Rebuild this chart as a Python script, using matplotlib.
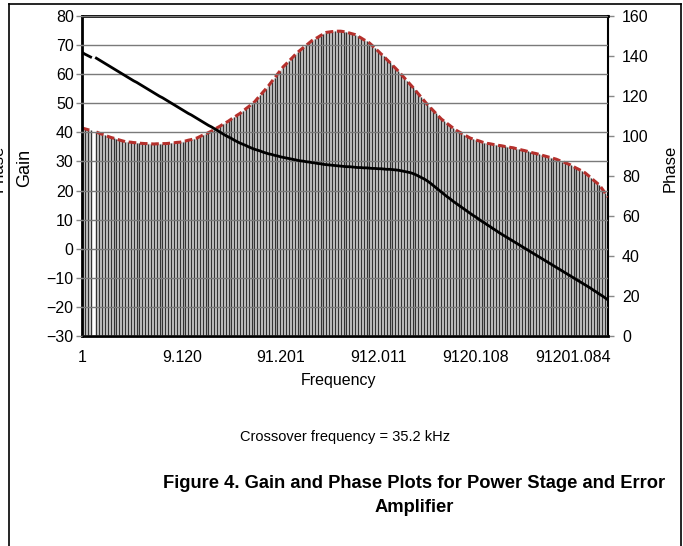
import numpy as np
import matplotlib
matplotlib.use("Agg")
import matplotlib.pyplot as plt
from matplotlib.lines import Line2D

plt.rcParams['font.family'] = ['Liberation Sans', 'DejaVu Sans']

nan = float('nan')

# Gain (left axis), one value per frequency point
gain = [
    67.5, 66.9, 66.4, 65.9, nan,
    65.5, 64.9, 64.3, 63.7, 63.1,
    62.5, 61.9, 61.3, 60.7, 60.1,
    59.5, 58.9, 58.3, 57.7, 57.2,
    56.6, 56.0, 55.4, 54.8, 54.2,
    53.6, 53.0, 52.4, 51.9, 51.3,
    50.7, 50.1, 49.5, 48.9, 48.3,
    47.7, 47.1, 46.5, 46.0, 45.4,
    44.8, 44.2, 43.6, 43.0, 42.4,
    41.9, 41.3, 40.7, 40.1, 39.5,
    38.9, 38.4, 37.9, 37.3, 36.8,
    36.3, 35.9, 35.5, 35.0, 34.6,
    34.2, 33.9, 33.6, 33.2, 32.9,
    32.6, 32.4, 32.1, 31.9, 31.6,
    31.4, 31.2, 31.0, 30.8, 30.6,
    30.4, 30.2, 30.1, 29.9, 29.8,
    29.6, 29.5, 29.3, 29.2, 29.0,
    28.9, 28.8, 28.7, 28.6, 28.5,
    28.4, 28.3, 28.2, 28.2, 28.1,
    28.0, 27.9, 27.9, 27.8, 27.8,
    27.7, 27.6, 27.6, 27.5, 27.5,
    27.4, 27.3, 27.3, 27.2, 27.1,
    27.0, 26.8, 26.6, 26.4, 26.2,
    25.9, 25.5, 25.0, 24.5, 24.0,
    23.4, 22.7, 21.9, 21.1, 20.3,
    19.5, 18.7, 17.9, 17.2, 16.4,
    15.7, 15.0, 14.3, 13.6, 12.9,
    12.2, 11.5, 10.9, 10.2, 9.5,
    8.9, 8.2, 7.6, 6.9, 6.3,
    5.6, 5.0, 4.4, 3.8, 3.2,
    2.6, 2.0, 1.4, 0.8, 0.2,
    -0.4, -1.0, -1.6, -2.2, -2.8,
    -3.4, -4.0, -4.6, -5.2, -5.8,
    -6.4, -7.0, -7.6, -8.2, -8.8,
    -9.4, -10.0, -10.6, -11.2, -11.8,
    -12.4, -13.0, -13.6, -14.3, -14.9,
    -15.6, -16.2, -16.9, -17.6,
]

# Phase (right axis)
phase = [
    104.0, 103.6, 103.2, 102.8, nan,
    102.0, 101.4, 100.9, 100.4, 99.8,
    99.3, 98.9, 98.5, 98.0, 97.6,
    97.2, 97.0, 96.9, 96.7, 96.6,
    96.4, 96.3, 96.2, 96.2, 96.1,
    96.0, 96.1, 96.1, 96.2, 96.2,
    96.3, 96.5, 96.6, 96.8, 96.9,
    97.1, 97.5, 97.9, 98.2, 98.6,
    99.0, 99.7, 100.4, 101.0, 101.7,
    102.4, 103.2, 104.1, 104.9, 105.8,
    106.6, 107.5, 108.5, 109.4, 110.4,
    111.3, 112.4, 113.6, 114.7, 115.9,
    117.0, 118.7, 120.3, 122.0, 123.6,
    125.3, 127.2, 129.0, 130.9, 132.7,
    134.6, 136.0, 137.5, 138.9, 140.4,
    141.8, 143.0, 144.2, 145.3, 146.5,
    147.7, 148.5, 149.3, 150.2, 151.0,
    151.8, 152.0, 152.2, 152.3, 152.4,
    152.4, 152.2, 151.9, 151.5, 151.1,
    150.7, 149.9, 149.1, 148.2, 147.4,
    146.5, 145.2, 143.8, 142.5, 141.1,
    139.8, 138.3, 136.9, 135.4, 134.0,
    132.5, 130.9, 129.3, 127.7, 126.1,
    124.5, 122.8, 121.1, 119.4, 117.7,
    116.0, 114.5, 113.0, 111.5, 110.0,
    108.5, 107.4, 106.3, 105.2, 104.1,
    103.0, 102.2, 101.4, 100.6, 99.8,
    99.0, 98.5, 98.0, 97.6, 97.1,
    96.6, 96.3, 96.1, 95.8, 95.6,
    95.3, 95.1, 94.8, 94.6, 94.3,
    94.1, 93.7, 93.4, 93.0, 92.7,
    92.3, 91.9, 91.5, 91.2, 90.8,
    90.4, 90.0, 89.6, 89.2, 88.8,
    88.4, 87.8, 87.2, 86.7, 86.1,
    85.5, 84.7, 83.9, 83.2, 82.4,
    81.6, 80.4, 79.2, 77.9, 76.7,
    75.5, 73.5, 71.5, 69.5,
]

# category axis labels and the point index they sit on
freq_labels = ['1', '9.120', '91.201', '912.011', '9120.108', '91201.084']
freq_label_idx = [0, 35, 69, 103, 137, 171]

gain = np.array(gain)
phase = np.array(phase)
idx = np.arange(len(gain))

fig = plt.figure(figsize=(6.83, 5.46), dpi=100)
ax = fig.add_axes([82/683, 1-336/546, 526/683, 320/546])
ax2 = ax.twinx()
ax.set_zorder(ax2.get_zorder() + 1)
ax.patch.set_visible(False)

# drop lines from the phase curve down to the axis
ok = ~np.isnan(phase)
ax2.fill_between(idx, 0, phase, where=ok, color='#dadada', linewidth=0, zorder=1)
ax2.vlines(idx[ok], 0, phase[ok], colors='#333333', linewidth=1.0, zorder=2)
ax2.plot(idx, phase, color='#b5302c', linewidth=2.2, dashes=(2.5, 1.2), zorder=3)

ax.plot(idx, gain, color='black', linewidth=2.0, zorder=4)

ax.set_xlim(0, len(gain) - 1)
ax.set_ylim(-30, 80)
ax.set_yticks(np.arange(-30, 81, 10))
ax.set_yticklabels([str(v).replace('-', '\u2212') for v in range(-30, 81, 10)])
ax2.set_ylim(0, 160)
ax2.set_yticks(np.arange(0, 161, 20))

ax.yaxis.grid(True, color='#7a7a7a', linewidth=1.0, zorder=1)
ax.set_axisbelow(False)

ax.set_xticks(freq_label_idx)
ax.set_xticklabels(freq_labels)

ax.tick_params(axis='x', length=0, pad=10, labelsize=11.5)
ax.tick_params(axis='y', direction='out', length=4, width=1, color='#888888', labelsize=11.5, pad=2)
ax2.tick_params(axis='y', direction='out', length=4, width=1, color='#888888', labelsize=11.5, pad=6)

for s in ['left', 'bottom', 'top']:
    ax.spines[s].set_linewidth(2.0)
ax.spines['right'].set_visible(False)
for s in ['left', 'bottom', 'top']:
    ax2.spines[s].set_visible(False)
ax2.spines['right'].set_linewidth(1.5)

fig.text(25/683, 1-168/546, 'Gain', rotation=90, ha='center', va='center', fontsize=13)
fig.text(670/683, 1-168/546, 'Phase', rotation=90, ha='center', va='center', fontsize=12)
fig.text(-2/683, 1-168/546, 'Phase', rotation=90, ha='center', va='center', fontsize=12)
fig.text(338/683, 1-380/546, 'Frequency', ha='center', va='center', fontsize=11.5)
fig.text(345/683, 1-437/546, 'Crossover frequency = 35.2 kHz', ha='center', va='center', fontsize=10.5)
fig.text(414/683, 1-483/546, 'Figure 4. Gain and Phase Plots for Power Stage and Error',
         ha='center', va='center', fontsize=13.2, fontweight='bold')
fig.text(414/683, 1-507/546, 'Amplifier', ha='center', va='center', fontsize=13.2, fontweight='bold')

# page frame lines
fig.add_artist(Line2D([9/683, 9/683], [0, 1-4/546], color='black', linewidth=1.2, transform=fig.transFigure))
fig.add_artist(Line2D([9/683, 681/683], [1-4/546, 1-4/546], color='black', linewidth=1.2, transform=fig.transFigure))
fig.add_artist(Line2D([681/683, 681/683], [0, 1-4/546], color='black', linewidth=1.2, transform=fig.transFigure))

fig.savefig('out.png', dpi=100)
